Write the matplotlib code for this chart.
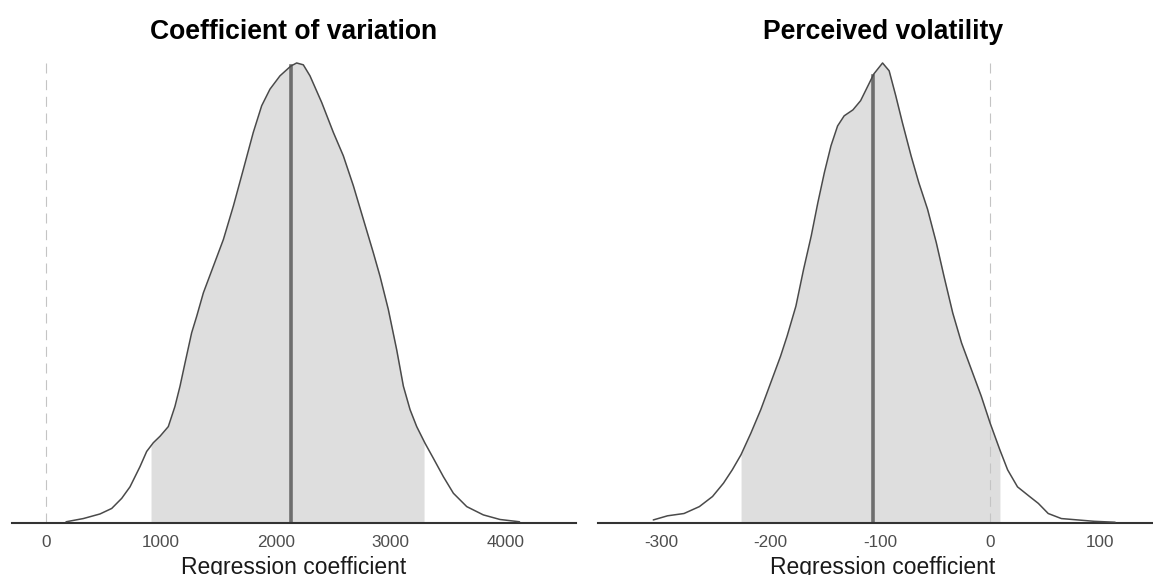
import numpy as np
import matplotlib.pyplot as plt

plt.rcParams['font.family'] = ['Liberation Sans', 'DejaVu Sans']

# posterior density of the coefficient (scaled so the mode is 1)
cv_x = [177, 327, 472, 574, 661, 733, 820, 878, 936, 994, 1066, 1124, 1168,
        1211, 1269, 1313, 1371, 1458, 1545, 1632, 1719, 1805, 1878, 1950,
        2037, 2130, 2182, 2240, 2298, 2400, 2501, 2588, 2675, 2762, 2849,
        2907, 2979, 3052, 3110, 3168, 3226, 3298, 3371, 3458, 3545, 3661,
        3805, 3950, 4120]
cv_dens = [0.002, 0.009, 0.019, 0.031, 0.053, 0.078, 0.122, 0.155, 0.174,
           0.188, 0.209, 0.253, 0.297, 0.347, 0.413, 0.449, 0.500, 0.558,
           0.616, 0.689, 0.769, 0.849, 0.907, 0.943, 0.972, 0.993, 1.000,
           0.996, 0.972, 0.914, 0.849, 0.798, 0.733, 0.660, 0.587, 0.536,
           0.464, 0.376, 0.297, 0.246, 0.209, 0.173, 0.140, 0.100, 0.064,
           0.035, 0.017, 0.007, 0.002]
cv_median = 2133
cv_interval = (916, 3290)
cv_ticks = [0, 1000, 2000, 3000, 4000]

pv_x = [-307, -294, -279, -265, -253, -243, -235, -227, -218, -209, -200,
        -191, -185, -177, -170, -163, -157, -151, -145, -139, -133, -125,
        -118, -112, -106, -98, -92, -86, -80, -72, -65, -57, -49, -42, -34,
        -26, -17, -8, 0, 9, 16, 25, 36, 44, 53, 65, 80, 95, 114]
pv_dens = [0.006, 0.015, 0.020, 0.035, 0.057, 0.086, 0.115, 0.148, 0.195,
           0.246, 0.304, 0.362, 0.406, 0.471, 0.551, 0.624, 0.696, 0.762,
           0.820, 0.863, 0.885, 0.898, 0.918, 0.947, 0.976, 1.000, 0.983,
           0.929, 0.871, 0.798, 0.740, 0.682, 0.609, 0.536, 0.456, 0.391,
           0.333, 0.275, 0.217, 0.158, 0.115, 0.078, 0.057, 0.042, 0.020,
           0.009, 0.006, 0.003, 0.001]
pv_median = -107
pv_interval = (-227, 9)
pv_ticks = [-300, -200, -100, 0, 100]

W, H = 1153, 575
fig = plt.figure(figsize=(W / 100, H / 100), dpi=100)


def panel(left, right, xlim, x, dens, med, interval, ticks, title):
    ax = fig.add_axes([left / W, (H - 522.7) / H, (right - left) / W, (522.7 - 57) / H])
    x = np.array(x, dtype=float)
    dens = np.array(dens)
    lo, hi = interval
    # shaded credible interval
    xs = np.concatenate([[lo], x[(x > lo) & (x < hi)], [hi]])
    ax.fill_between(xs, 0, np.interp(xs, x, dens), color='#dedede', lw=0, zorder=1)
    ax.plot(x, dens, color='#4a4a4a', lw=1.1, zorder=3,
            solid_joinstyle='round', solid_capstyle='round')
    ax.axvline(0, color='#c4c4c4', lw=0.8, ls=(0, (9, 6)), zorder=2)
    ax.plot([med, med], [0, np.interp(med, x, dens)], color='#6e6e6e', lw=2.6, zorder=2)

    ax.set_xlim(*xlim)
    ax.set_ylim(0, 1.013)
    ax.set_yticks([])
    ax.set_xticks(ticks)
    ax.set_xticklabels([str(t) for t in ticks])
    ax.tick_params(axis='x', length=0, pad=8.5, labelsize=12.3, labelcolor='#4d4d4d')
    for s in ['top', 'left', 'right']:
        ax.spines[s].set_visible(False)
    ax.spines['bottom'].set_color('#333333')
    ax.spines['bottom'].set_linewidth(1.5)
    ax.set_facecolor('none')
    ax.set_title(title, fontsize=19.1, fontweight='bold', pad=13.3)
    ax.set_xlabel('Regression coefficient', fontsize=16.5, labelpad=4.5, color='#1a1a1a')
    return ax


panel(12, 576, (-293, 4611), cv_x, cv_dens, cv_median, cv_interval, cv_ticks,
      'Coefficient of variation')
panel(598, 1168, (-357.4, 162.2), pv_x, pv_dens, pv_median, pv_interval, pv_ticks,
      'Perceived volatility')

plt.savefig('out.png', dpi=100)
